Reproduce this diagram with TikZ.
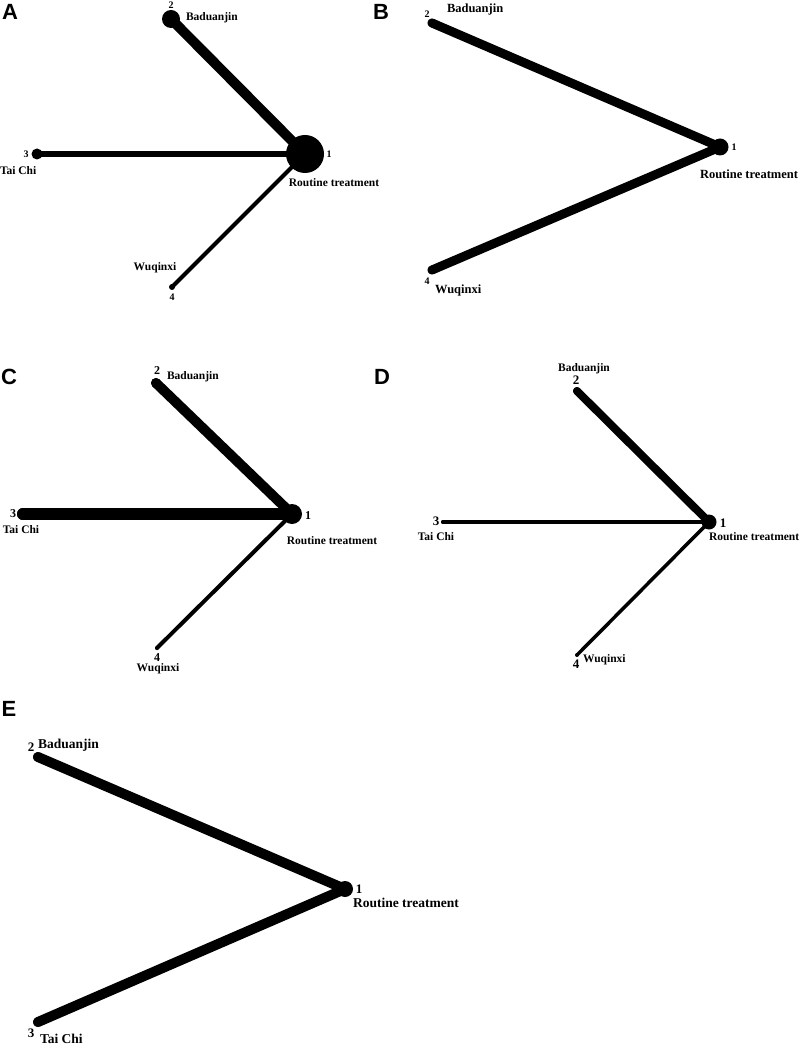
\documentclass[tikz,border=0pt]{standalone}
\usepackage{fontspec}
\setmainfont{Liberation Serif}
\newfontfamily\panelfont{Liberation Sans}
\usepackage{tikz}

\begin{document}
\begin{tikzpicture}[x=1pt,y=-1pt,
  every node/.style={inner sep=0pt, outer sep=0pt},
  dot/.style={circle, fill=black, minimum size=#1},
  arm/.style={line width=#1, line cap=round},
  lbl/.style={font=\bfseries\fontsize{#1}{#1}\selectfont},
  panel/.style={font=\panelfont\bfseries\fontsize{22}{22}\selectfont}]
\useasboundingbox (0,0) rectangle (800,1048);

\node[panel] (pA) at (10,12) {A};
\node[dot=38] (a1) at (305,154) {};
\node[dot=18] (a2) at (171,19) {};
\node[dot=11] (a3) at (37,154) {};
\node[dot=6] (a4) at (172,287) {};
\draw[arm=10] (a1.center) -- (a2.center);
\draw[arm=6] (a1.center) -- (a3.center);
\draw[arm=4] (a1.center) -- (a4.center);
\node[lbl=10] (a1n) at (329,154) {1};
\node[lbl=11.5] (a1t) at (334,183) {Routine treatment};
\node[lbl=10] (a2n) at (171,5) {2};
\node[lbl=11.5, anchor=west] (a2t) at (186,18) {Baduanjin};
\node[lbl=10] (a3n) at (26,154) {3};
\node[lbl=11.5, anchor=west] (a3t) at (0,171) {Tai Chi};
\node[lbl=10] (a4n) at (172,297) {4};
\node[lbl=11.5] (a4t) at (155,268) {Wuqinxi};

\node[panel] (pB) at (381,12) {B};
\node[dot=17] (b1) at (720,147) {};
\node[dot=9] (b2) at (432,23) {};
\node[dot=9] (b4) at (432,270) {};
\draw[arm=9] (b1.center) -- (b2.center);
\draw[arm=9] (b1.center) -- (b4.center);
\node[lbl=10] (b1n) at (734,147) {1};
\node[lbl=12.5] (b1t) at (749,174) {Routine treatment};
\node[lbl=10] (b2n) at (427,14) {2};
\node[lbl=12.5, anchor=west] (b2t) at (447,9) {Baduanjin};
\node[lbl=10] (b4n) at (427,281) {4};
\node[lbl=12.5, anchor=west] (b4t) at (435,290) {Wuqinxi};

\node[panel] (pC) at (9,377) {C};
\node[dot=20] (c1) at (292,514) {};
\node[dot=10] (c2) at (156,383) {};
\node[dot=12] (c3) at (23,514) {};
\node[dot=4] (c4) at (157,648) {};
\draw[arm=10] (c1.center) -- (c2.center);
\draw[arm=12] (c1.center) -- (c3.center);
\draw[arm=4] (c1.center) -- (c4.center);
\node[lbl=12] (c1n) at (308,516) {1};
\node[lbl=11.5] (c1t) at (332,541) {Routine treatment};
\node[lbl=12] (c2n) at (157,371) {2};
\node[lbl=11.5, anchor=west] (c2t) at (167,377) {Baduanjin};
\node[lbl=12] (c3n) at (13,514) {3};
\node[lbl=11.5] (c3t) at (21,530) {Tai Chi};
\node[lbl=12] (c4n) at (157,658) {4};
\node[lbl=11.5] (c4t) at (158,669) {Wuqinxi};

\node[panel] (pD) at (382,377) {D};
\node[dot=15] (d1) at (709,522) {};
\node[dot=8] (d2) at (577,391) {};
\node[dot=4] (d3) at (443,522) {};
\node[dot=4] (d4) at (577,655) {};
\draw[arm=8] (d1.center) -- (d2.center);
\draw[arm=4] (d1.center) -- (d3.center);
\draw[arm=3.5] (d1.center) -- (d4.center);
\node[lbl=13] (d1n) at (723,523) {1};
\node[lbl=11.5, anchor=west] (d1t) at (709,537) {Routine treatment};
\node[lbl=13] (d2n) at (576,380) {2};
\node[lbl=11.5] (d2t) at (584,369) {Baduanjin};
\node[lbl=13] (d3n) at (436,521) {3};
\node[lbl=11.5] (d3t) at (436,537) {Tai Chi};
\node[lbl=13] (d4n) at (576,664) {4};
\node[lbl=11.5, anchor=west] (d4t) at (583,660) {Wuqinxi};

\node[panel] (pE) at (9,709) {E};
\node[dot=16] (e1) at (345,889) {};
\node[dot=10] (e2) at (38,757) {};
\node[dot=10] (e3) at (38,1022) {};
\draw[arm=10] (e1.center) -- (e2.center);
\draw[arm=10] (e1.center) -- (e3.center);
\node[lbl=13] (e1n) at (359,889) {1};
\node[lbl=13.5, anchor=west] (e1t) at (353,903) {Routine treatment};
\node[lbl=13] (e2n) at (31,747) {2};
\node[lbl=13.5, anchor=west] (e2t) at (38,745) {Baduanjin};
\node[lbl=13] (e3n) at (31,1033) {3};
\node[lbl=13.5, anchor=west] (e3t) at (40,1039) {Tai Chi};
\end{tikzpicture}
\end{document}
